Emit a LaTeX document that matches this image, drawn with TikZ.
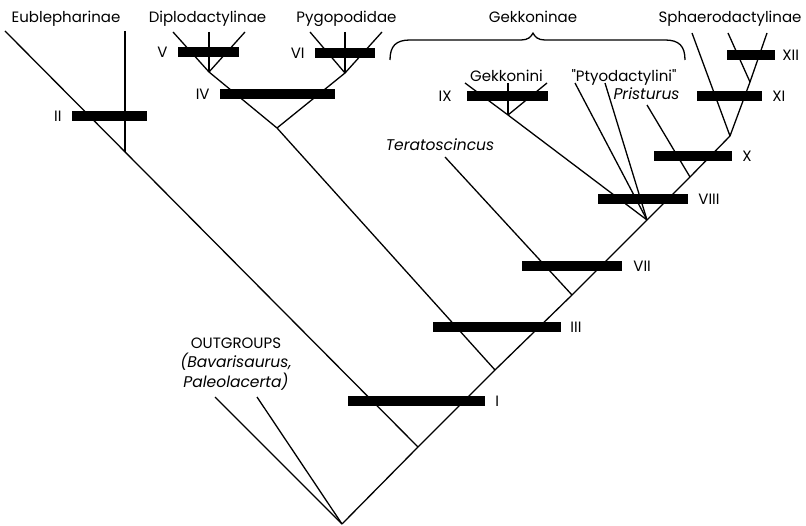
\documentclass[tikz,border=0pt]{standalone}
\usepackage{fontspec}
\setmainfont{Poppins}[Ligatures=TeXOff]
\begin{document}
\begin{tikzpicture}[x=1pt,y=-1pt,
  branch/.style={line width=1.3pt, line join=round},
  bar/.style={fill=black, draw=none, inner sep=0pt, minimum height=10pt},
  numeral/.style={inner sep=0pt, font=\fontsize{15}{17}\selectfont},
  taxon/.style={inner sep=0pt, anchor=base, font=\fontsize{15}{17}\selectfont},
  itaxon/.style={taxon, font=\fontsize{15.5}{17}\selectfont\itshape}]
\useasboundingbox (0,0) rectangle (806,526);

% nodes along the main stem
\coordinate (root) at (342,524);
\coordinate (n1) at (418,447);
\coordinate (n3) at (495,370);
\coordinate (n7) at (572,295);
\coordinate (n8) at (647,220);
\coordinate (n10) at (690,177);
\coordinate (n11) at (730,136);
\coordinate (n12) at (750,82);

% side nodes and tips
\coordinate (tOutA) at (215,397);
\coordinate (tOutB) at (257,397);
\coordinate (tEub) at (5,31);
\coordinate (tEubV) at (125,31);
\coordinate (n2) at (125,152);
\coordinate (tDipL) at (173,32);
\coordinate (tDipM) at (209,32);
\coordinate (tDipR) at (245,32);
\coordinate (nDip) at (209,72);
\coordinate (tPygL) at (310,32);
\coordinate (tPygM) at (345,32);
\coordinate (tPygR) at (382,32);
\coordinate (nPyg) at (345,73);
\coordinate (n4) at (277,128);
\coordinate (tTer) at (445,157);
\coordinate (tGekL) at (465,83);
\coordinate (tGekM) at (508,83);
\coordinate (tGekR) at (547,83);
\coordinate (nGek) at (508,115);
\coordinate (tPtyA) at (575,83);
\coordinate (tPtyB) at (605,83);
\coordinate (tPri) at (647,105);
\coordinate (tSphL) at (692,33);
\coordinate (tSphM) at (728,33);
\coordinate (tSphR) at (767,33);

% branches
\draw[branch] (root) -- (n1) -- (n3) -- (n7) -- (n8) -- (n10) -- (n11) -- (n12) -- (tSphR);
\draw[branch] (tOutA) -- (root);
\draw[branch] (tOutB) -- (root);
\draw[branch] (tEub) -- (n1);
\draw[branch] (tEubV) -- (n2);
\draw[branch] (tDipL) -- (nDip) -- (n4) -- (n3);
\draw[branch] (tDipM) -- (nDip);
\draw[branch] (tDipR) -- (nDip);
\draw[branch] (tPygL) -- (nPyg) -- (n4);
\draw[branch] (tPygM) -- (nPyg);
\draw[branch] (tPygR) -- (nPyg);
\draw[branch] (tTer) -- (n7);
\draw[branch] (tGekL) -- (nGek) -- (n8);
\draw[branch] (tGekM) -- (nGek);
\draw[branch] (tGekR) -- (nGek);
\draw[branch] (tPtyA) -- (n8);
\draw[branch] (tPtyB) -- (n8);
\draw[branch] (tPri) -- (n10);
\draw[branch] (tSphL) -- (n11);
\draw[branch] (tSphM) -- (n12);

% character bars
\node[bar, minimum width=137pt] (bI) at (416.5,401.5) {};
\node[bar, minimum width=75pt] (bII) at (109.5,116) {};
\node[bar, minimum width=128pt] (bIII) at (497,327) {};
\node[bar, minimum width=115pt] (bIV) at (277.5,94.5) {};
\node[bar, minimum width=61pt] (bV) at (208.5,52.5) {};
\node[bar, minimum width=60pt] (bVI) at (345,53) {};
\node[bar, minimum width=100pt] (bVII) at (572,266) {};
\node[bar, minimum width=90pt] (bVIII) at (643,199) {};
\node[bar, minimum width=81pt] (bIX) at (507.5,96) {};
\node[bar, minimum width=78pt] (bX) at (693,156.5) {};
\node[bar, minimum width=65pt] (bXI) at (729.5,96) {};
\node[bar, minimum width=48pt] (bXII) at (751,55.5) {};

% bar numerals
\node[numeral, anchor=west] (lI) at ([xshift=10pt]bI.east) {I};
\node[numeral, anchor=east] (lII) at ([xshift=-10pt]bII.west) {II};
\node[numeral, anchor=west] (lIII) at ([xshift=9pt]bIII.east) {III};
\node[numeral, anchor=east] (lIV) at ([xshift=-10pt]bIV.west) {IV};
\node[numeral, anchor=east] (lV) at ([xshift=-10pt]bV.west) {V};
\node[numeral, anchor=east] (lVI) at ([xshift=-10pt]bVI.west) {VI};
\node[numeral, anchor=west] (lVII) at ([xshift=11pt]bVII.east) {VII};
\node[numeral, anchor=west] (lVIII) at ([xshift=10pt]bVIII.east) {VIII};
\node[numeral, anchor=east] (lIX) at ([xshift=-15pt]bIX.west) {IX};
\node[numeral, anchor=west] (lX) at ([xshift=10pt]bX.east) {X};
\node[numeral, anchor=west] (lXI) at ([xshift=10pt]bXI.east) {XI};
\node[numeral, anchor=west] (lXII) at ([xshift=7pt]bXII.east) {XII};

% taxon names
\node[taxon] (eub) at (66,23) {Eublepharinae};
\node[taxon] (dip) at (207.5,23) {Diplodactylinae};
\node[taxon] (pyg) at (346.5,23) {Pygopodidae};
\node[taxon] (gekko) at (533,23) {Gekkoninae};
\node[taxon] (sph) at (730,23) {Sphaerodactylinae};
\node[taxon] (gekn) at (506.5,82) {Gekkonini};
\node[taxon] (pty) at (624,82) {"Ptyodactylini"};
\node[itaxon] (pri) at (646.5,100) {Pristurus};
\node[itaxon] (ter) at (440,151) {Teratoscincus};
\node[taxon] (outg) at (236,349) {OUTGROUPS};
\node[itaxon] (bav) at (236,368) {(Bavarisaurus,};
\node[itaxon] (pal) at (236,388) {Paleolacerta)};

% brace over the Gekkoninae
\coordinate (brL) at (390,60);
\coordinate (brM) at (533,33);
\coordinate (brR) at (685,60);
\draw[branch] (brL) .. controls (390,46) and (396,40) .. (410,40) -- (521,40)
  .. controls (528,40) and (531,37) .. (brM)
  .. controls (535,37) and (538,40) .. (545,40) -- (665,40)
  .. controls (679,40) and (685,46) .. (brR);
\end{tikzpicture}
\end{document}
